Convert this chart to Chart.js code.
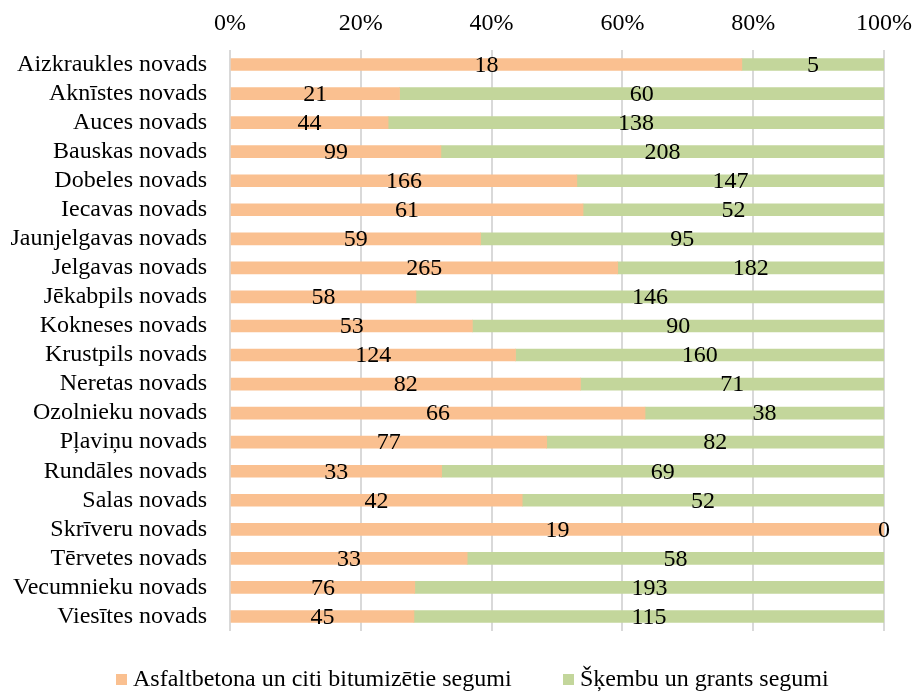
<!DOCTYPE html>
<html>
<head>
<meta charset="utf-8">
<script src="https://cdn.jsdelivr.net/npm/chart.js@4"></script>
<style>
  html, body { margin: 0; padding: 0; background: #fff; }
  #wrap { width: 912px; height: 693px; }
</style>
</head>
<body>
<div id="wrap"><canvas id="roadChart"></canvas></div>
<script>
const categories = ['Aizkraukles novads', 'Aknīstes novads', 'Auces novads', 'Bauskas novads',
    'Dobeles novads', 'Iecavas novads', 'Jaunjelgavas novads', 'Jelgavas novads',
    'Jēkabpils novads', 'Kokneses novads', 'Krustpils novads', 'Neretas novads',
    'Ozolnieku novads', 'Pļaviņu novads', 'Rundāles novads', 'Salas novads',
    'Skrīveru novads', 'Tērvetes novads', 'Vecumnieku novads', 'Viesītes novads'];
const asfaltaSegumi = [18, 21, 44, 99, 166, 61, 59, 265, 58, 53, 124, 82, 66, 77, 33, 42, 19, 33, 76, 45];
const grantsSegumi = [5, 60, 138, 208, 147, 52, 95, 182, 146, 90, 160, 71, 38, 82, 69, 52, 0, 58, 193, 115];
const seriesNames = ['Asfaltbetona un citi bitumizētie segumi', 'Šķembu un grants segumi'];
const seriesColors = ['#FAC090', '#C3D69B'];
const tickStep = 20;

const serif = '"Liberation Serif", "Times New Roman", serif';
const fontPx = 24;

function toPercent(a, b) {
    return a.map((v, i) => v / (v + b[i]) * 100);
}

// raw counts centred on each segment
const valueLabels = {
    id: 'valueLabels',
    afterDatasetsDraw(chart) {
        const ctx = chart.ctx;
        ctx.save();
        ctx.font = fontPx + 'px ' + serif;
        ctx.fillStyle = '#000';
        ctx.textAlign = 'center';
        ctx.textBaseline = 'middle';
        chart.data.datasets.forEach((ds, di) => {
            chart.getDatasetMeta(di).data.forEach((bar, i) => {
                const x = (bar.x + bar.base) / 2;
                ctx.fillText(String(ds.raw[i]), x, bar.y + 1);
            });
        });
        ctx.restore();
    }
};

// legend under the plot, spaced like the original
const bottomLegend = {
    id: 'bottomLegend',
    afterDraw(chart) {
        const ctx = chart.ctx;
        const starts = [116, 563];
        const y = 680;
        ctx.save();
        ctx.font = fontPx + 'px ' + serif;
        ctx.textAlign = 'left';
        ctx.textBaseline = 'middle';
        chart.data.datasets.forEach((ds, i) => {
            ctx.fillStyle = ds.backgroundColor;
            ctx.fillRect(starts[i], y - 6, 11, 11);
            ctx.fillStyle = '#000';
            ctx.fillText(ds.label, starts[i] + 17, y);
        });
        ctx.restore();
    }
};

function drawRoadChart() {
    const ctx = document.getElementById('roadChart').getContext('2d');
    return new Chart(ctx, {
        type: 'bar',
        data: {
            labels: categories,
            datasets: [{
                label: seriesNames[0],
                data: toPercent(asfaltaSegumi, grantsSegumi),
                raw: asfaltaSegumi,
                backgroundColor: seriesColors[0],
                barThickness: 12
            }, {
                label: seriesNames[1],
                data: toPercent(grantsSegumi, asfaltaSegumi),
                raw: grantsSegumi,
                backgroundColor: seriesColors[1],
                barThickness: 12
            }]
        },
        options: {
            indexAxis: 'y',
            responsive: true,
            maintainAspectRatio: false,
            animation: false,
            layout: { padding: { top: 10, right: 0, bottom: 62, left: 0 } },
            scales: {
                x: {
                    position: 'top',
                    stacked: true,
                    min: 0,
                    max: 100,
                    afterFit(scale) {
                        scale.height = 40;
                        scale.paddingLeft = 0;
                        scale.paddingRight = 28;
                    },
                    ticks: {
                        stepSize: tickStep,
                        padding: 12,
                        color: '#000',
                        font: { family: serif, size: fontPx },
                        callback: v => v + '%'
                    },
                    grid: { color: '#D9D9D9', lineWidth: 2, drawTicks: false },
                    border: { display: false }
                },
                y: {
                    stacked: true,
                    afterFit(scale) { scale.width = 230; },
                    ticks: {
                        padding: 23,
                        color: '#000',
                        autoSkip: false,
                        font: { family: serif, size: fontPx }
                    },
                    grid: { display: false, drawTicks: false },
                    border: { display: false }
                }
            },
            plugins: {
                legend: { display: false },
                tooltip: { enabled: false }
            }
        },
        plugins: [valueLabels, bottomLegend]
    });
}

drawRoadChart();
</script>
</body>
</html>
